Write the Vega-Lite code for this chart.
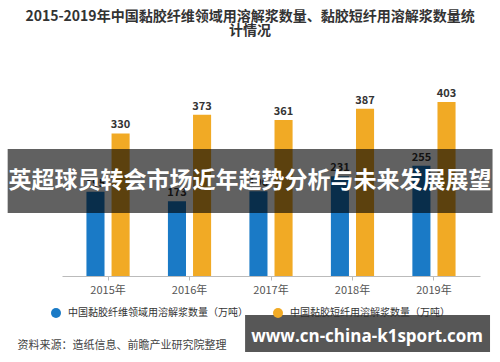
{
  "$schema": "https://vega.github.io/schema/vega-lite/v6.json",
  "width": 418,
  "height": 216,
  "autosize": "none",
  "padding": {"left": 62, "top": 60, "right": 20, "bottom": 86},
  "background": "white",
  "config": {
    "font": "Noto Sans CJK SC",
    "view": {"stroke": null},
    "title": {"fontSize": 14, "fontWeight": "bold", "color": "#333333", "lineHeight": 14, "offset": 22, "dx": -21, "anchor": "middle"},
    "legend": {"orient": "none", "legendX": -12, "legendY": 247, "direction": "horizontal", "symbolType": "circle", "symbolSize": 100, "labelFontSize": 10, "labelColor": "#333333", "columnPadding": 24, "labelLimit": 300, "labelOffset": 6}
  },
  "title": {"text": ["2015-2019年中国黏胶纤维领域用溶解浆数量、黏胶短纤用溶解浆数量统", "计情况"]},
  "datasets": {
    "bars": [
      {"year": "2015年", "series": "中国黏胶纤维领域用溶解浆数量（万吨）", "value": 195},
      {"year": "2016年", "series": "中国黏胶纤维领域用溶解浆数量（万吨）", "value": 173},
      {"year": "2017年", "series": "中国黏胶纤维领域用溶解浆数量（万吨）", "value": 196},
      {"year": "2018年", "series": "中国黏胶纤维领域用溶解浆数量（万吨）", "value": 231},
      {"year": "2019年", "series": "中国黏胶纤维领域用溶解浆数量（万吨）", "value": 255},
      {"year": "2015年", "series": "中国黏胶短纤用溶解浆数量（万吨）", "value": 330},
      {"year": "2016年", "series": "中国黏胶短纤用溶解浆数量（万吨）", "value": 373},
      {"year": "2017年", "series": "中国黏胶短纤用溶解浆数量（万吨）", "value": 361},
      {"year": "2018年", "series": "中国黏胶短纤用溶解浆数量（万吨）", "value": 387},
      {"year": "2019年", "series": "中国黏胶短纤用溶解浆数量（万吨）", "value": 403}
    ],
    "overlay": [{"banner": "英超球员转会市场近年趋势分析与未来发展展望", "site": "www.cn-china-k1sport.com"}]
  },
  "layer": [
    {
      "data": {"name": "bars"},
      "encoding": {
        "x": {"field": "year", "type": "nominal", "sort": null,
          "scale": {"paddingInner": 0.47, "paddingOuter": 0.3},
          "axis": {"labelAngle": 0, "labelFontSize": 11, "labelColor": "#555555", "domainColor": "#bbbbbb", "tickColor": "#bbbbbb", "tickSize": 4, "labelPadding": 4,
            "title": "资料来源：造纸信息、前瞻产业研究院整理", "titleFontSize": 11, "titleFontWeight": "normal", "titleColor": "#444444", "titleAnchor": "start", "titleAlign": "left", "titleBaseline": "middle", "titleX": -45, "titleY": 69}},
        "xOffset": {"field": "series", "type": "nominal", "sort": null, "scale": {"paddingInner": 0.28}},
        "y": {"field": "value", "type": "quantitative",
          "scale": {"domain": [0, 500], "nice": false},
          "axis": {"values": [0, 100, 200, 300, 400, 500], "domain": false, "ticks": false, "gridColor": "#e2e2e2", "labelFontSize": 11, "labelColor": "#666666", "labelPadding": 5,
            "title": "单位：万吨", "titleFontSize": 10, "titleFontWeight": "normal", "titleColor": "#888888", "titlePadding": 6}}
      },
      "layer": [
        {"mark": {"type": "bar"},
         "encoding": {"color": {"field": "series", "type": "nominal", "sort": null, "title": null,
           "scale": {"range": ["#1A7AC6", "#F1AA25"]}}}},
        {"mark": {"type": "text", "dy": -8, "fontSize": 11, "fontWeight": "bold", "color": "#333333"},
         "encoding": {"text": {"field": "value", "type": "quantitative"}}}
      ]
    },
    {
      "data": {"name": "overlay"},
      "layer": [
        {"mark": {"type": "rect", "color": "#000000", "opacity": 0.62},
         "encoding": {
           "x": {"datum": -0.13, "type": "quantitative", "scale": {"domain": [0, 1], "nice": false, "zero": false}, "axis": null},
           "x2": {"datum": 1.03},
           "y": {"datum": 294, "type": "quantitative", "scale": {"domain": [0, 500], "nice": false}, "axis": null},
           "y2": {"datum": 146}}},
        {"mark": {"type": "text", "color": "#ffffff", "fontSize": 23, "fontWeight": "bold", "align": "center", "baseline": "middle"},
         "encoding": {
           "x": {"datum": 0.45, "type": "quantitative", "scale": {"domain": [0, 1], "nice": false, "zero": false}, "axis": null},
           "y": {"datum": 220, "type": "quantitative", "scale": {"domain": [0, 500], "nice": false}, "axis": null},
           "text": {"field": "banner", "type": "nominal"}}},
        {"mark": {"type": "rect", "color": "#000000", "opacity": 0.66},
         "encoding": {
           "x": {"datum": 0.438, "type": "quantitative", "scale": {"domain": [0, 1], "nice": false, "zero": false}, "axis": null},
           "x2": {"datum": 1.024},
           "y": {"datum": -90, "type": "quantitative", "scale": {"domain": [0, 500], "nice": false}, "axis": null},
           "y2": {"datum": -176}}},
        {"mark": {"type": "text", "color": "#ffffff", "fontSize": 17, "fontWeight": "bold", "align": "center", "baseline": "middle", "font": "Open Sans"},
         "encoding": {
           "x": {"datum": 0.73, "type": "quantitative", "scale": {"domain": [0, 1], "nice": false, "zero": false}, "axis": null},
           "y": {"datum": -141, "type": "quantitative", "scale": {"domain": [0, 500], "nice": false}, "axis": null},
           "text": {"field": "site", "type": "nominal"}}}
      ]
    }
  ],
  "resolve": {"scale": {"x": "independent"}}
}
